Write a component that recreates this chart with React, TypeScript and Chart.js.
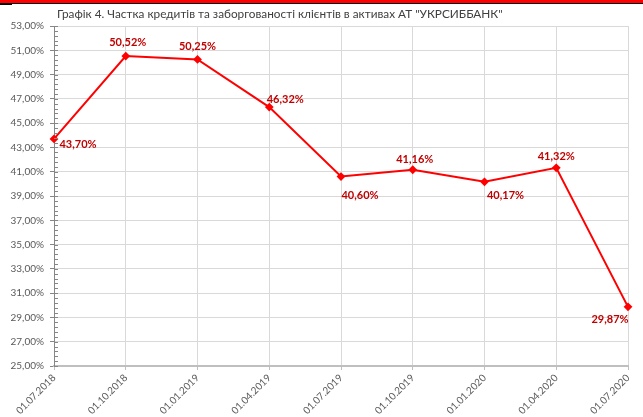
import React, { useEffect, useRef } from "react";
import { Chart, registerables } from "chart.js";

Chart.register(...registerables);

const categories = [
  "01.07.2018",
  "01.10.2018",
  "01.01.2019",
  "01.04.2019",
  "01.07.2019",
  "01.10.2019",
  "01.01.2020",
  "01.04.2020",
  "01.07.2020",
];
const shareValues = [43.7, 50.52, 50.25, 46.32, 40.6, 41.16, 40.17, 41.32, 29.87];
const yMin = 25;
const yMax = 53;
const yStep = 2;
const yMinorStep = 0.4;
const titleText =
  'Графік 4. Частка кредитів та заборгованості клієнтів в активах АТ "УКРСИББАНК"';

// label offsets (dx, dy) relative to each point — styling only
const labelDx = [24, 2, 0, 16, 19, 2, 21, 0, -18];
const labelDy = [6, -14, -13, -8, 19, -10, 14, -11, 13];

const FONT = "Lato, 'Liberation Sans', sans-serif";

const fmt = (v: number) => v.toFixed(2).replace(".", ",") + "%";

const decorPlugin = {
  id: "decor",
  afterDraw(chart: any) {
    const ctx = chart.ctx;
    const y = chart.scales.y;
    const area = chart.chartArea;
    ctx.save();
    // minor ticks on the y axis
    ctx.strokeStyle = "#868686";
    ctx.lineWidth = 1;
    const n = Math.round((yMax - yMin) / yMinorStep);
    for (let i = 0; i <= n; i++) {
      const v = yMin + i * yMinorStep;
      if (Math.abs(v / yStep - Math.round(v / yStep)) < 1e-6) continue;
      const py = Math.round(y.getPixelForValue(v)) + 0.5;
      ctx.beginPath();
      ctx.moveTo(area.left, py);
      ctx.lineTo(area.left + 4, py);
      ctx.stroke();
    }
    // title
    ctx.fillStyle = "#404040";
    ctx.font = `11.8px ${FONT}`;
    ctx.textAlign = "left";
    ctx.textBaseline = "middle";
    ctx.fillText(titleText, 57, 14);
    // data labels
    const meta = chart.getDatasetMeta(0);
    ctx.fillStyle = "#C00000";
    ctx.font = `bold 11px ${FONT}`;
    ctx.textAlign = "center";
    meta.data.forEach((pt: any, i: number) => {
      ctx.fillText(fmt(shareValues[i]), pt.x + labelDx[i], pt.y + labelDy[i]);
    });
    ctx.restore();
  },
};

export default function App() {
  const ref = useRef<HTMLCanvasElement | null>(null);

  useEffect(() => {
    if (!ref.current) return;
    const chart = new Chart(ref.current, {
      type: "line",
      data: {
        labels: categories,
        datasets: [
          {
            data: shareValues,
            borderColor: "#FF0000",
            backgroundColor: "#FF0000",
            borderWidth: 2,
            pointStyle: "rectRot",
            pointRadius: 3,
            pointBackgroundColor: "#FF0000",
            pointBorderColor: "#FF0000",
            tension: 0,
          },
        ],
      },
      options: {
        responsive: false,
        animation: false,
        events: [],
        layout: { padding: { top: 26, right: 15, left: 0, bottom: 0 } },
        plugins: {
          legend: { display: false },
          title: { display: false },
          tooltip: { enabled: false },
        },
        scales: {
          x: {
            offset: false,
            afterFit: (s: any) => {
              s.height = 51;
            },
            grid: {
              color: "#D9D9D9",
              tickColor: "#BFBFBF",
              tickLength: 4,
              offset: false,
            },
            border: { color: "#BFBFBF", width: 2 },
            ticks: {
              color: "#595959",
              font: { family: FONT, size: 10 },
              minRotation: 45,
              maxRotation: 45,
              autoSkip: false,
              padding: 2,
            },
          },
          y: {
            min: yMin,
            max: yMax,
            afterFit: (s: any) => {
              s.width = 54;
            },
            grid: {
              color: "#D9D9D9",
              tickColor: "#868686",
              tickLength: 4,
            },
            border: { color: "#868686", width: 1 },
            ticks: {
              stepSize: yStep,
              color: "#595959",
              font: { family: FONT, size: 10 },
              padding: 6,
              callback: (v: any) => fmt(Number(v)),
            },
          },
        },
      },
      plugins: [decorPlugin],
    });
    return () => chart.destroy();
  }, []);

  return (
    <div style={{ position: "absolute", left: 0, top: 0, width: 643, height: 417, background: "#fff" }}>
      <div style={{ position: "absolute", left: 0, top: 0, width: 643, height: 3, background: "#FF0000" }} />
      <div style={{ position: "absolute", left: 0, top: 3, width: 643, height: 1, background: "#000" }} />
      <div style={{ position: "absolute", left: 0, top: 3, width: 12, height: 2, background: "#000" }} />
      <canvas ref={ref} width={643} height={417} style={{ position: "absolute", left: 0, top: 0 }} />
    </div>
  );
}
